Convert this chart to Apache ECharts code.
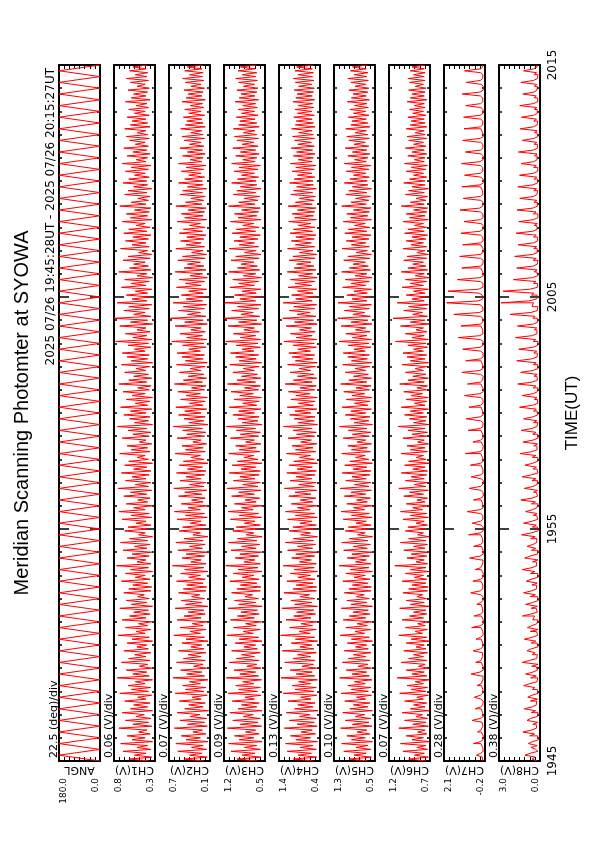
<!DOCTYPE html>
<html><head><meta charset="utf-8">
<script src="https://cdn.jsdelivr.net/npm/echarts@6/dist/echarts.min.js"></script>
<style>html,body{margin:0;padding:0;background:#fff}#c{width:595px;height:842px}</style>
</head><body><div id="c"></div>
<script>
// ---- time axis (minutes after 19:45 UT) ----
const timeTickValues = [0, 10, 20, 30];
const timeTickLabels = ['1945', '1955', '2005', '2015'];
const timeSpan = 30;

// ---- panels ----
const panelNames = ['ANGL', 'CH1(V)', 'CH2(V)', 'CH3(V)', 'CH4(V)', 'CH5(V)', 'CH6(V)', 'CH7(V)', 'CH8(V)'];
const valueTopLabels = ['180.0', '0.8', '0.7', '1.2', '1.4', '1.3', '1.2', '2.1', '3.0'];
const valueBottomLabels = ['0.0', '0.3', '0.1', '0.5', '0.4', '0.5', '0.7', '-0.2', '0.0'];
const perDivLabels = ['22.5 (deg)/div', '0.06 (V)/div', '0.07 (V)/div', '0.09 (V)/div', '0.13 (V)/div', '0.10 (V)/div', '0.07 (V)/div', '0.28 (V)/div', '0.38 (V)/div'];
const titleText = 'Meridian Scanning Photomter at SYOWA';
const subtitleText = '2025 07/26 19:45:28UT - 2025 07/26 20:15:27UT';
const timeAxisName = 'TIME(UT)';

// ---- series values (uniform sampling from 19:45 to 20:15, bottom to top) ----
const angl = [0,180,0,180,0,180,0,180,0,180,0,180,0,180,0,180,0,180,0,180,
0,180,0,180,0,180,0,180,0,180,0,180,0,180,0,180,0,180,0,180,
0,180,0,180,0,180,0,180,0,180,0,180,0,180,0,180,0,180,0,180,
0,180,0,180,0,180,0,180,0,180,0,180,0,180,0,180,0,180,0,180,
0,180,0,180,0,180,0,180,0,180,0,180,0,180,0,180,0,180,0,180,
0,180,0,180,0,180,0,180,0,180,0,180,0,180,0,180,0,180,0,180,0];

const ch1 = [0.37,0.61,0.34,0.55,0.41,0.69,0.35,0.52,0.39,0.72,0.33,0.58,0.42,0.64,0.36,0.50,0.40,0.74,0.34,0.57,0.38,0.66,0.35,0.53,0.43,0.70,0.33,0.60,0.39,0.56,
0.36,0.67,0.41,0.51,0.34,0.73,0.38,0.59,0.35,0.63,0.42,0.54,0.33,0.76,0.37,0.57,0.40,0.65,0.34,0.49,0.39,0.71,0.36,0.62,0.41,0.55,0.35,0.68,0.38,0.52,
0.40,0.64,0.33,0.58,0.37,0.75,0.42,0.53,0.35,0.66,0.39,0.50,0.34,0.70,0.41,0.61,0.36,0.56,0.38,0.73,0.33,0.59,0.40,0.65,0.37,0.51,0.43,0.68,0.35,0.62,
0.34,0.57,0.39,0.71,0.36,0.54,0.42,0.66,0.33,0.60,0.38,0.77,0.35,0.52,0.41,0.64,0.37,0.58,0.34,0.69,0.40,0.55,0.36,0.72,0.39,0.61,0.33,0.50,0.42,0.67,
0.38,0.63,0.35,0.53,0.41,0.70,0.34,0.59,0.37,0.74,0.42,0.56,0.33,0.65,0.39,0.51,0.36,0.68,0.40,0.60,0.34,0.75,0.38,0.54,0.35,0.66,0.41,0.58,0.37,0.71,
0.35,0.56,0.40,0.67,0.33,0.62,0.38,0.52,0.42,0.73,0.36,0.59,0.39,0.64,0.34,0.49,0.41,0.70,0.37,0.57,0.35,0.63,0.40,0.76,0.33,0.55,0.38,0.61,0.36,0.68,
0.41,0.60,0.34,0.72,0.39,0.54,0.36,0.65,0.33,0.58,0.42,0.69,0.37,0.51,0.35,0.74,0.40,0.62,0.34,0.56,0.38,0.67,0.41,0.53,0.36,0.71,0.33,0.59,0.39,0.64,
0.37,0.70,0.42,0.55,0.35,0.63,0.38,0.78,0.34,0.57,0.40,0.66,0.36,0.52,0.41,0.73,0.33,0.60,0.39,0.80,0.35,0.56,0.42,0.68,0.37,0.62,0.34,0.76,0.40,0.58,
0.36,0.65,0.39,0.54,0.34,0.71,0.41,0.59,0.37,0.67,0.33,0.52,0.40,0.74,0.35,0.61,0.38,0.56,0.42,0.69,0.36,0.63,0.34,0.50,0.39,0.72,0.37,0.58,0.41,0.66,
0.38,0.57,0.35,0.68,0.40,0.62,0.36,0.53,0.42,0.70,0.34,0.60,0.39,0.65,0.37,0.55,0.35,0.73,0.41,0.59,0.38,0.51,0.36,0.67,0.40,0.63,0.34,0.56,0.39,0.69,
0.40,0.62,0.37,0.55,0.42,0.66,0.38,0.59,0.35,0.70,0.41,0.53,0.39,0.64,0.36,0.57,0.40,0.68,0.38,0.54,0.42,0.61,0.37,0.65,0.39,0.52,0.41,0.67,0.36,0.60,
0.39,0.58,0.41,0.64,0.37,0.55,0.42,0.62,0.38,0.53,0.40,0.66,0.36,0.59,0.41,0.56,0.39,0.63,0.37,0.52,0.42,0.60,0.38,0.65,0.40,0.54,0.39,0.61,0.41,0.57,0.39];

const ch2 = [0.19,0.48,0.14,0.40,0.22,0.57,0.15,0.37,0.20,0.60,0.13,0.45,0.24,0.52,0.16,0.35,0.21,0.62,0.14,0.43,0.18,0.54,0.15,0.39,0.25,0.58,0.12,0.47,0.20,0.41,
0.17,0.55,0.23,0.36,0.14,0.61,0.19,0.46,0.16,0.50,0.24,0.40,0.13,0.64,0.18,0.44,0.22,0.53,0.15,0.34,0.20,0.59,0.17,0.49,0.23,0.42,0.16,0.56,0.19,0.38,
0.22,0.51,0.13,0.45,0.18,0.63,0.24,0.39,0.16,0.54,0.20,0.36,0.14,0.58,0.23,0.48,0.17,0.42,0.19,0.61,0.13,0.46,0.22,0.52,0.18,0.37,0.25,0.56,0.16,0.49,
0.15,0.44,0.20,0.59,0.17,0.41,0.24,0.53,0.13,0.47,0.19,0.65,0.16,0.38,0.23,0.51,0.18,0.45,0.14,0.57,0.21,0.40,0.17,0.60,0.20,0.48,0.13,0.35,0.24,0.55,
0.19,0.50,0.16,0.39,0.23,0.58,0.14,0.46,0.18,0.62,0.24,0.42,0.13,0.52,0.20,0.37,0.17,0.56,0.22,0.47,0.15,0.63,0.19,0.40,0.16,0.54,0.23,0.45,0.18,0.59,
0.16,0.43,0.21,0.55,0.13,0.49,0.19,0.38,0.24,0.61,0.17,0.46,0.20,0.51,0.15,0.35,0.23,0.58,0.18,0.44,0.16,0.50,0.21,0.64,0.13,0.41,0.19,0.48,0.17,0.56,
0.23,0.47,0.15,0.60,0.20,0.40,0.17,0.53,0.14,0.45,0.24,0.57,0.18,0.37,0.16,0.62,0.21,0.49,0.15,0.42,0.19,0.55,0.23,0.39,0.17,0.59,0.14,0.46,0.20,0.51,
0.18,0.58,0.24,0.41,0.16,0.50,0.19,0.66,0.15,0.44,0.21,0.54,0.17,0.38,0.23,0.61,0.14,0.47,0.20,0.68,0.16,0.43,0.24,0.56,0.18,0.49,0.15,0.64,0.21,0.45,
0.17,0.52,0.20,0.41,0.15,0.59,0.23,0.46,0.18,0.55,0.14,0.39,0.21,0.61,0.16,0.48,0.19,0.43,0.24,0.57,0.17,0.50,0.15,0.37,0.20,0.60,0.18,0.45,0.23,0.53,
0.19,0.44,0.16,0.55,0.21,0.49,0.17,0.40,0.24,0.58,0.15,0.47,0.20,0.52,0.18,0.42,0.16,0.60,0.22,0.46,0.19,0.38,0.17,0.54,0.21,0.50,0.15,0.43,0.20,0.56,
0.21,0.47,0.18,0.41,0.23,0.52,0.19,0.45,0.16,0.56,0.22,0.39,0.20,0.50,0.17,0.43,0.21,0.54,0.19,0.40,0.23,0.48,0.18,0.51,0.20,0.38,0.22,0.53,0.17,0.46,
0.20,0.44,0.22,0.49,0.18,0.41,0.23,0.47,0.19,0.39,0.21,0.51,0.17,0.45,0.22,0.42,0.20,0.48,0.18,0.38,0.23,0.46,0.19,0.50,0.21,0.40,0.20,0.47,0.22,0.43,0.20];

const ch3 = [0.63,0.98,0.57,0.89,0.67,1.08,0.58,0.85,0.64,1.12,0.55,0.94,0.69,1.02,0.60,0.83,0.66,1.14,0.56,0.92,0.62,1.05,0.58,0.87,0.70,1.10,0.55,0.96,0.64,0.90,
0.60,1.06,0.68,0.84,0.57,1.13,0.63,0.95,0.58,1.00,0.69,0.88,0.56,1.16,0.61,0.93,0.66,1.03,0.57,0.81,0.64,1.11,0.60,0.99,0.68,0.90,0.58,1.07,0.63,0.86,
0.66,1.01,0.55,0.94,0.61,1.15,0.70,0.87,0.58,1.04,0.65,0.83,0.56,1.09,0.68,0.97,0.60,0.91,0.63,1.13,0.55,0.95,0.66,1.02,0.61,0.84,0.71,1.07,0.58,0.98,
0.57,0.92,0.64,1.10,0.60,0.89,0.69,1.04,0.55,0.96,0.62,1.17,0.58,0.86,0.67,1.01,0.61,0.93,0.56,1.08,0.65,0.90,0.59,1.12,0.64,0.97,0.55,0.82,0.69,1.05,
0.62,0.99,0.58,0.85,0.67,1.09,0.56,0.94,0.61,1.13,0.70,0.90,0.55,1.02,0.65,0.84,0.59,1.07,0.68,0.95,0.57,1.15,0.62,0.88,0.58,1.04,0.67,0.93,0.60,1.11,
0.58,0.91,0.66,1.06,0.55,0.97,0.62,0.86,0.69,1.12,0.59,0.94,0.65,1.00,0.57,0.83,0.68,1.09,0.61,0.92,0.58,0.99,0.66,1.16,0.55,0.89,0.62,0.96,0.60,1.05,
0.68,0.95,0.57,1.11,0.64,0.88,0.60,1.03,0.56,0.93,0.70,1.08,0.61,0.85,0.58,1.14,0.66,0.98,0.57,0.90,0.63,1.05,0.68,0.87,0.60,1.10,0.56,0.94,0.65,1.00,
0.61,1.09,0.69,0.89,0.58,0.99,0.62,1.17,0.57,0.92,0.66,1.04,0.60,0.86,0.68,1.13,0.56,0.95,0.64,1.20,0.59,0.91,0.70,1.07,0.61,0.97,0.57,1.19,0.66,0.93,
0.60,1.02,0.65,0.89,0.57,1.10,0.68,0.95,0.61,1.05,0.56,0.87,0.66,1.12,0.59,0.97,0.63,0.91,0.69,1.08,0.60,1.00,0.57,0.85,0.65,1.11,0.61,0.94,0.68,1.03,
0.62,0.93,0.58,1.06,0.66,0.99,0.60,0.88,0.69,1.09,0.57,0.96,0.64,1.02,0.61,0.90,0.58,1.12,0.67,0.95,0.62,0.86,0.59,1.04,0.66,0.98,0.57,0.92,0.64,1.07,
0.65,0.97,0.61,0.90,0.68,1.03,0.62,0.94,0.58,1.07,0.67,0.88,0.64,1.00,0.60,0.92,0.66,1.05,0.62,0.89,0.69,0.98,0.61,1.02,0.64,0.87,0.67,1.04,0.60,0.95,
0.64,0.93,0.67,0.99,0.62,0.90,0.68,0.96,0.63,0.88,0.66,1.01,0.61,0.94,0.67,0.91,0.64,0.98,0.62,0.87,0.68,0.95,0.63,1.00,0.66,0.89,0.64,0.96,0.67,0.92,0.64];

const ch4 = [0.56,1.05,0.48,0.93,0.61,1.20,0.49,0.88,0.57,1.24,0.46,0.99,0.63,1.12,0.51,0.86,0.59,1.27,0.47,0.96,0.54,1.15,0.49,0.90,0.64,1.22,0.45,1.02,0.57,0.94,
0.52,1.18,0.62,0.87,0.48,1.30,0.55,1.01,0.49,1.08,0.63,0.92,0.46,1.35,0.53,0.98,0.59,1.13,0.48,0.84,0.56,1.26,0.52,1.06,0.62,0.95,0.49,1.32,0.55,0.89,
0.60,1.10,0.46,1.00,0.53,1.36,0.64,0.91,0.49,1.14,0.58,0.86,0.47,1.23,0.62,1.04,0.51,0.97,0.55,1.33,0.46,1.02,0.60,1.11,0.53,0.88,0.65,1.28,0.49,1.06,
0.48,0.98,0.57,1.21,0.52,0.94,0.63,1.12,0.46,1.03,0.54,1.30,0.49,0.90,0.61,1.09,0.53,0.99,0.47,1.19,0.58,0.95,0.51,1.25,0.56,1.05,0.46,0.87,0.63,1.15,
0.54,1.06,0.49,0.89,0.60,1.19,0.47,1.00,0.53,1.24,0.64,0.95,0.46,1.10,0.58,0.88,0.50,1.16,0.62,1.01,0.48,1.27,0.54,0.92,0.49,1.13,0.60,0.98,0.52,1.21,
0.49,0.96,0.59,1.15,0.46,1.04,0.54,0.90,0.63,1.22,0.50,1.00,0.57,1.08,0.48,0.87,0.61,1.18,0.53,0.97,0.49,1.06,0.59,1.29,0.46,0.94,0.54,1.03,0.52,1.14,
0.62,1.01,0.48,1.20,0.56,0.93,0.52,1.11,0.47,0.99,0.64,1.17,0.53,0.89,0.49,1.25,0.59,1.05,0.48,0.95,0.55,1.13,0.62,0.91,0.51,1.19,0.47,1.00,0.57,1.08,
0.53,1.16,0.63,0.94,0.49,1.06,0.54,1.28,0.48,0.98,0.59,1.12,0.52,0.90,0.61,1.23,0.47,1.02,0.56,1.31,0.50,0.96,0.64,1.15,0.53,1.04,0.48,1.30,0.59,0.99,
0.51,1.09,0.57,0.95,0.48,1.18,0.61,1.01,0.53,1.12,0.47,0.92,0.58,1.20,0.50,1.03,0.55,0.97,0.62,1.15,0.52,1.06,0.48,0.90,0.57,1.19,0.53,1.00,0.61,1.10,
0.54,0.99,0.50,1.13,0.58,1.05,0.52,0.93,0.62,1.16,0.49,1.02,0.56,1.08,0.53,0.95,0.50,1.18,0.59,1.00,0.54,0.91,0.51,1.11,0.58,1.04,0.49,0.97,0.56,1.14,
0.57,1.03,0.53,0.95,0.60,1.08,0.54,0.99,0.50,1.12,0.59,0.93,0.56,1.05,0.52,0.97,0.58,1.10,0.54,0.94,0.61,1.02,0.53,1.07,0.56,0.92,0.59,1.09,0.52,1.00,
0.56,0.98,0.59,1.04,0.54,0.95,0.60,1.01,0.55,0.93,0.58,1.06,0.53,0.99,0.59,0.96,0.56,1.03,0.54,0.92,0.60,1.00,0.55,1.05,0.58,0.94,0.56,1.01,0.59,0.97,0.56];

const ch5 = [0.63,1.01,0.57,0.91,0.67,1.11,0.58,0.87,0.64,1.15,0.55,0.96,0.69,1.05,0.60,0.85,0.66,1.17,0.56,0.94,0.62,1.08,0.58,0.89,0.70,1.13,0.55,0.99,0.64,0.92,
0.60,1.09,0.68,0.86,0.57,1.16,0.63,0.97,0.58,1.03,0.69,0.90,0.56,1.19,0.61,0.95,0.66,1.06,0.57,0.83,0.64,1.14,0.60,1.02,0.68,0.92,0.58,1.10,0.63,0.88,
0.66,1.04,0.55,0.96,0.61,1.18,0.70,0.89,0.58,1.07,0.65,0.85,0.56,1.12,0.68,1.00,0.60,0.93,0.63,1.16,0.55,0.97,0.66,1.05,0.61,0.86,0.71,1.10,0.58,1.01,
0.57,0.94,0.64,1.13,0.60,0.91,0.69,1.07,0.55,0.98,0.62,1.20,0.58,0.88,0.67,1.04,0.61,0.95,0.56,1.11,0.65,0.92,0.59,1.15,0.64,1.00,0.55,0.84,0.69,1.08,
0.62,1.02,0.58,0.87,0.67,1.12,0.56,0.96,0.61,1.16,0.70,0.92,0.55,1.05,0.65,0.86,0.59,1.10,0.68,0.97,0.57,1.18,0.62,0.90,0.58,1.07,0.67,0.95,0.60,1.14,
0.58,0.93,0.66,1.09,0.55,0.99,0.62,0.88,0.69,1.15,0.59,0.96,0.65,1.03,0.57,0.85,0.68,1.12,0.61,0.94,0.58,1.02,0.66,1.19,0.55,0.91,0.62,0.98,0.60,1.08,
0.68,0.97,0.57,1.14,0.64,0.90,0.60,1.06,0.56,0.95,0.70,1.11,0.61,0.87,0.58,1.17,0.66,1.01,0.57,0.92,0.63,1.08,0.68,0.89,0.60,1.13,0.56,0.96,0.65,1.03,
0.61,1.12,0.69,0.91,0.58,1.02,0.62,1.20,0.57,0.94,0.66,1.07,0.60,0.88,0.68,1.16,0.56,0.97,0.64,1.23,0.59,0.93,0.70,1.10,0.61,1.00,0.57,1.22,0.66,0.95,
0.60,1.05,0.65,0.91,0.57,1.13,0.68,0.97,0.61,1.08,0.56,0.89,0.66,1.15,0.59,1.00,0.63,0.93,0.69,1.11,0.60,1.03,0.57,0.87,0.65,1.14,0.61,0.96,0.68,1.06,
0.62,0.95,0.58,1.09,0.66,1.02,0.60,0.90,0.69,1.12,0.57,0.98,0.64,1.05,0.61,0.92,0.58,1.15,0.67,0.97,0.62,0.88,0.59,1.07,0.66,1.01,0.57,0.94,0.64,1.10,
0.65,0.99,0.61,0.92,0.68,1.06,0.62,0.96,0.58,1.10,0.67,0.90,0.64,1.03,0.60,0.94,0.66,1.08,0.62,0.91,0.69,1.01,0.61,1.05,0.64,0.89,0.67,1.07,0.60,0.97,
0.64,0.95,0.67,1.02,0.62,0.92,0.68,0.99,0.63,0.90,0.66,1.04,0.61,0.96,0.67,0.93,0.64,1.01,0.62,0.89,0.68,0.97,0.63,1.03,0.66,0.91,0.64,0.98,0.67,0.94,0.64];

const ch6 = [0.75,0.96,0.72,0.89,0.77,1.03,0.73,0.86,0.75,1.06,0.71,0.92,0.78,0.99,0.74,0.85,0.76,1.08,0.72,0.91,0.75,1.01,0.73,0.87,0.79,1.04,0.71,0.94,0.76,0.90,
0.74,1.01,0.78,0.86,0.72,1.07,0.75,0.93,0.73,0.98,0.78,0.88,0.71,1.10,0.74,0.92,0.77,0.99,0.72,0.84,0.76,1.05,0.74,0.96,0.78,0.90,0.73,1.02,0.75,0.87,
0.77,0.99,0.71,0.93,0.74,1.08,0.79,0.88,0.73,1.00,0.76,0.85,0.72,1.04,0.78,0.95,0.74,0.90,0.75,1.07,0.71,0.94,0.77,0.99,0.74,0.86,0.79,1.03,0.73,0.96,
0.72,0.92,0.75,1.04,0.74,0.89,0.78,1.00,0.71,0.94,0.75,1.13,0.73,0.87,0.77,0.98,0.74,0.93,0.72,1.02,0.76,0.90,0.73,1.06,0.75,0.96,0.71,0.85,0.78,1.00,
0.75,0.97,0.73,0.87,0.77,1.03,0.72,0.94,0.74,1.06,0.79,0.91,0.71,0.99,0.76,0.86,0.73,1.02,0.78,0.95,0.72,1.08,0.75,0.89,0.73,1.00,0.77,0.93,0.74,1.05,
0.73,0.91,0.76,1.01,0.71,0.96,0.75,0.87,0.78,1.05,0.73,0.94,0.76,0.98,0.72,0.85,0.77,1.03,0.74,0.92,0.73,0.97,0.76,1.09,0.71,0.90,0.75,0.95,0.74,1.01,
0.78,0.94,0.72,1.05,0.76,0.89,0.74,0.99,0.72,0.93,0.79,1.02,0.74,0.86,0.73,1.07,0.77,0.97,0.72,0.91,0.75,1.00,0.78,0.88,0.74,1.04,0.72,0.94,0.76,0.98,
0.74,1.03,0.78,0.90,0.73,0.97,0.75,1.12,0.72,0.92,0.77,1.00,0.74,0.87,0.78,1.06,0.71,0.94,0.76,1.15,0.73,0.91,0.79,1.02,0.74,0.96,0.72,1.10,0.77,0.92,
0.74,0.99,0.76,0.90,0.72,1.04,0.78,0.94,0.74,1.00,0.71,0.88,0.77,1.05,0.73,0.97,0.75,0.91,0.78,1.02,0.74,0.98,0.72,0.86,0.76,1.03,0.74,0.93,0.78,0.99,
0.75,0.92,0.73,1.01,0.77,0.97,0.74,0.89,0.78,1.03,0.72,0.95,0.76,0.99,0.74,0.90,0.73,1.05,0.77,0.94,0.75,0.87,0.73,1.00,0.77,0.96,0.72,0.92,0.76,1.02,
0.76,0.95,0.74,0.90,0.78,0.99,0.75,0.93,0.73,1.01,0.77,0.89,0.76,0.97,0.74,0.92,0.77,1.00,0.75,0.90,0.78,0.96,0.74,0.98,0.76,0.88,0.77,0.99,0.74,0.94,
0.76,0.93,0.77,0.97,0.75,0.91,0.78,0.95,0.76,0.89,0.77,0.98,0.74,0.94,0.77,0.92,0.76,0.96,0.75,0.88,0.78,0.95,0.76,0.97,0.77,0.90,0.76,0.94,0.77,0.92,0.76];

const ch7 = [-0.08,-0.05,0.01,0.28,0.04,-0.10,-0.07,-0.11,0.03,0.45,0.06,-0.09,-0.10,-0.06,0.00,0.22,0.03,-0.08,-0.09,-0.04,0.02,0.52,0.07,-0.11,-0.06,-0.09,0.01,0.35,0.04,-0.08,
-0.10,-0.05,0.03,0.40,0.05,-0.07,-0.08,-0.11,0.00,0.25,0.02,-0.09,-0.06,-0.08,0.04,0.58,0.08,-0.10,-0.09,-0.05,0.01,0.32,0.03,-0.07,-0.11,-0.06,0.02,0.47,0.05,-0.08,
-0.07,-0.10,0.01,0.30,0.04,-0.09,-0.08,-0.05,0.03,0.55,0.06,-0.11,-0.10,-0.07,0.00,0.42,0.05,-0.08,-0.06,-0.09,0.02,0.26,0.03,-0.10,-0.09,-0.06,0.04,0.60,0.07,-0.07,
-0.08,-0.11,0.02,0.48,0.05,-0.09,-0.10,-0.06,0.01,0.35,0.04,-0.07,-0.07,-0.09,0.03,0.66,0.08,-0.10,-0.09,-0.05,0.00,0.44,0.05,-0.08,-0.06,-0.10,0.04,0.72,0.06,-0.09,
-0.10,-0.07,0.02,0.52,0.05,-0.08,-0.08,-0.10,0.04,0.80,0.07,-0.09,-0.07,-0.05,0.01,0.45,0.03,-0.11,-0.09,-0.08,0.03,0.68,0.06,-0.07,-0.11,-0.06,0.02,0.58,0.04,-0.09,
-0.08,-0.09,0.03,0.62,0.05,-0.10,-0.06,-0.08,0.04,0.90,0.08,-0.07,-0.10,-0.05,0.01,0.48,0.04,-0.09,-0.07,-0.11,0.02,0.75,0.06,-0.08,-0.09,-0.06,0.05,0.86,0.07,-0.10,
-0.07,-0.10,0.02,0.70,0.05,-0.08,-0.09,-0.06,0.04,0.95,0.08,-0.11,-0.08,-0.09,0.03,0.78,0.06,-0.07,-0.10,-0.05,0.05,1.10,0.09,-0.09,-0.06,-0.08,0.02,0.88,0.05,-0.10,
-0.09,-0.07,0.04,1.05,0.07,-0.08,-0.10,-0.06,0.05,1.30,0.09,-0.09,-0.07,-0.10,0.03,1.15,0.06,-0.08,-0.08,-0.05,0.06,1.55,0.10,-0.10,-0.06,-0.04,0.08,1.95,0.15,-0.07,
-0.05,0.02,0.12,1.88,0.18,-0.08,-0.09,-0.06,0.06,1.35,0.08,-0.10,-0.07,-0.09,0.04,1.10,0.06,-0.08,-0.10,-0.05,0.05,1.22,0.07,-0.09,-0.08,-0.07,0.03,1.05,0.05,-0.10,
-0.07,-0.09,0.05,1.15,0.08,-0.08,-0.10,-0.06,0.03,0.98,0.06,-0.09,-0.08,-0.05,0.06,1.20,0.09,-0.07,-0.09,-0.10,0.04,1.02,0.05,-0.08,-0.06,-0.08,0.05,1.10,0.07,-0.10,
-0.09,-0.06,0.03,0.95,0.06,-0.08,-0.07,-0.10,0.05,1.12,0.08,-0.09,-0.10,-0.07,0.02,0.90,0.05,-0.08,-0.08,-0.05,0.04,1.05,0.07,-0.10,-0.06,-0.09,0.03,0.98,0.06,-0.07,
-0.08,-0.10,0.04,1.00,0.07,-0.09,-0.09,-0.06,0.03,0.88,0.05,-0.08,-0.07,-0.08,0.05,1.08,0.08,-0.10,-0.10,-0.05,0.02,0.85,0.06,-0.07,-0.08,-0.09,0.04,0.95,0.05,-0.08,-0.09];

const ch8 = [0.22,0.58,0.35,1.10,0.72,0.15,0.30,0.66,0.20,0.85,0.55,0.12,0.18,0.75,0.40,1.25,0.62,0.25,0.28,0.52,0.16,0.95,0.70,0.20,0.14,0.63,0.33,1.15,0.58,0.27,
0.25,0.70,0.18,0.90,0.60,0.13,0.20,0.55,0.38,1.20,0.74,0.22,0.16,0.68,0.27,1.05,0.52,0.18,0.29,0.61,0.14,1.30,0.78,0.24,0.19,0.57,0.36,0.95,0.65,0.15,
0.21,0.64,0.31,1.15,0.57,0.17,0.26,0.72,0.15,0.92,0.60,0.23,0.14,0.53,0.39,1.28,0.69,0.20,0.27,0.66,0.18,1.05,0.54,0.12,0.18,0.71,0.34,1.20,0.62,0.26,
0.24,0.59,0.20,1.00,0.66,0.15,0.17,0.70,0.37,1.30,0.58,0.22,0.28,0.55,0.16,1.12,0.73,0.19,0.15,0.62,0.30,0.95,0.51,0.25,0.22,0.68,0.35,1.35,0.64,0.14,
0.19,0.56,0.28,1.20,0.60,0.16,0.25,0.50,0.21,1.05,0.55,0.23,0.14,0.62,0.33,1.40,0.58,0.18,0.27,0.48,0.19,1.15,0.52,0.21,0.17,0.59,0.30,1.30,0.63,0.15,
0.22,0.50,0.26,1.10,0.54,0.18,0.16,0.57,0.31,1.45,0.60,0.20,0.24,0.46,0.18,1.25,0.50,0.14,0.19,0.53,0.29,1.38,0.57,0.22,0.15,0.48,0.23,1.20,0.52,0.17,
0.21,0.47,0.27,1.50,0.55,0.16,0.18,0.42,0.22,1.30,0.49,0.20,0.14,0.51,0.30,1.62,0.58,0.19,0.23,0.44,0.20,1.42,0.50,0.15,0.17,0.49,0.28,1.70,0.60,0.21,
0.20,0.45,0.25,1.55,0.52,0.17,0.15,0.50,0.31,1.80,0.57,0.22,0.23,0.43,0.24,1.65,0.48,0.18,0.19,0.52,0.35,2.20,0.66,0.20,0.16,0.58,0.48,2.85,0.80,0.24,
0.22,0.62,0.45,2.70,0.75,0.19,0.18,0.48,0.30,1.95,0.55,0.16,0.24,0.44,0.22,1.70,0.50,0.20,0.15,0.50,0.28,1.85,0.53,0.21,0.20,0.46,0.25,1.60,0.49,0.17,
0.18,0.47,0.27,1.75,0.54,0.21,0.23,0.42,0.20,1.55,0.48,0.16,0.16,0.49,0.29,1.68,0.52,0.19,0.21,0.44,0.23,1.48,0.47,0.22,0.17,0.46,0.26,1.62,0.51,0.18,
0.20,0.43,0.24,1.50,0.49,0.17,0.16,0.46,0.27,1.38,0.45,0.21,0.22,0.41,0.22,1.58,0.50,0.18,0.19,0.44,0.25,1.30,0.46,0.15,0.23,0.40,0.21,1.45,0.48,0.20,
0.17,0.45,0.26,1.35,0.47,0.19,0.21,0.42,0.23,1.48,0.50,0.16,0.18,0.44,0.27,1.25,0.45,0.22,0.20,0.41,0.24,1.40,0.48,0.18,0.16,0.43,0.25,1.20,0.46,0.21,0.19];

const panelSeries = [angl, ch1, ch2, ch3, ch4, ch5, ch6, ch7, ch8];

// ---- layout / style (not data) ----
const L = { left0: 59, step: 55, width: 41, top: 65, height: 696 };
const RED = '#ff0000';
const SMALL_FONT = 'DejaVu Sans';

function toPairs(arr) {
  const n = arr.length - 1;
  return arr.map((v, k) => [v, timeSpan * k / n]);
}

const grid = [], xAxis = [], yAxis = [], series = [], graphic = [];

panelSeries.forEach((arr, i) => {
  const left = L.left0 + i * L.step;
  const mx = parseFloat(valueTopLabels[i]);
  const mn = parseFloat(valueBottomLabels[i]);
  const vTicks = [];
  for (let k = 0; k <= 8; k++) vTicks.push(mn + (mx - mn) * k / 8);
  grid.push({ left: left, top: L.top, width: L.width, height: L.height, containLabel: false });

  const baseX = {
    gridIndex: i, type: 'value', inverse: true, min: mn, max: mx,
    splitLine: { show: false },
    axisLine: { show: true, onZero: false, lineStyle: { color: '#000', width: 2 } },
    axisTick: { show: true, inside: true, length: 4, customValues: vTicks, lineStyle: { color: '#000', width: 1 } }
  };
  xAxis.push(Object.assign({}, baseX, {
    position: 'bottom',
    axisLabel: { show: true, rotate: 90, customValues: [mx], formatter: () => valueTopLabels[i],
      verticalAlign: 'top', margin: 17, fontSize: 9, fontFamily: SMALL_FONT, color: '#000' },
    name: panelNames[i], nameLocation: 'middle', nameGap: 3, nameRotate: 180, nameMoveOverlap: false,
    nameTextStyle: { fontSize: 11, fontFamily: SMALL_FONT, color: '#000' }
  }));
  xAxis.push(Object.assign({}, baseX, { position: 'top', axisLabel: { show: false } }));
  xAxis.push({
    gridIndex: i, type: 'value', inverse: true, min: mn, max: mx, position: 'bottom',
    splitLine: { show: false }, axisLine: { show: false, onZero: false }, axisTick: { show: false },
    axisLabel: { show: true, rotate: 90, customValues: [mn], formatter: () => valueBottomLabels[i],
      verticalAlign: 'bottom', margin: 17, fontSize: 9, fontFamily: SMALL_FONT, color: '#000' }
  });

  const baseY = {
    gridIndex: i, type: 'value', min: 0, max: timeSpan, interval: 10,
    splitLine: { show: false }, minorSplitLine: { show: false },
    axisLine: { show: true, onZero: false, lineStyle: { color: '#000', width: 2 } },
    axisTick: { show: true, inside: true, length: 10, lineStyle: { color: '#000', width: 1.5 } },
    minorTick: { show: true, splitNumber: 10, length: 3, lineStyle: { color: '#000', width: 1.5 } }
  };
  yAxis.push(Object.assign({}, baseY, { position: 'left', axisLabel: { show: false } }));
  const last = i === panelSeries.length - 1;
  yAxis.push(Object.assign({}, baseY, {
    position: 'right',
    axisLabel: { show: last, rotate: 90, align: 'center', margin: 7, fontSize: 12, fontFamily: SMALL_FONT, color: '#000',
      formatter: v => { const k = timeTickValues.indexOf(v); return k >= 0 ? timeTickLabels[k] : ''; } },
    name: last ? timeAxisName : '', nameLocation: 'middle', nameGap: 24, nameRotate: 90,
    nameTextStyle: { fontSize: 17, fontFamily: 'Liberation Sans', color: '#000' }
  }));

  series.push({
    type: 'line', xAxisIndex: 3 * i, yAxisIndex: 2 * i, data: toPairs(arr),
    showSymbol: false, symbol: 'none', animation: false, clip: true,
    step: i === 0 ? false : 'start',
    lineStyle: { color: RED, width: 1 }
  });

  graphic.push({
    type: 'text', x: left - 5, y: L.top + L.height - 3, rotation: Math.PI / 2,
    style: { text: perDivLabels[i], fill: '#000', font: '11px "DejaVu Sans"', textAlign: 'left', textVerticalAlign: 'middle' }
  });
});

graphic.push({
  type: 'text', x: 22, y: L.top + L.height / 2, rotation: Math.PI / 2,
  style: { text: titleText, fill: '#000', font: '20px "Liberation Sans"', textAlign: 'center', textVerticalAlign: 'middle' }
});
graphic.push({
  type: 'text', x: 51, y: L.top + 3, rotation: Math.PI / 2,
  style: { text: subtitleText, fill: '#000', font: '12px "DejaVu Sans"', textAlign: 'right', textVerticalAlign: 'middle' }
});

const chart = echarts.init(document.getElementById('c'), null, { renderer: 'canvas' });
chart.setOption({
  backgroundColor: '#fff',
  animation: false,
  grid: grid, xAxis: xAxis, yAxis: yAxis, series: series, graphic: graphic
});
</script>
</body></html>
